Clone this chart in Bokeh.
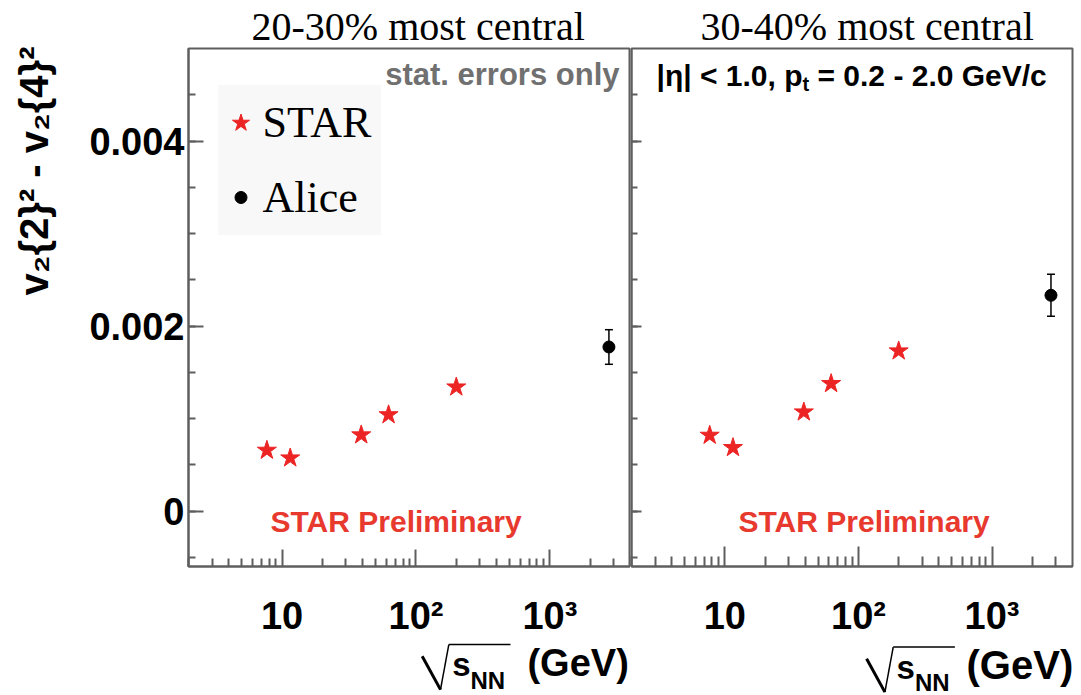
from bokeh.plotting import figure
from bokeh.models import (Range1d, FixedTicker, Label, Legend, LegendItem, Whisker,
                          TeeHead, ColumnDataSource, Arrow)
from bokeh.layouts import row, column
from bokeh.embed import file_html
from bokeh.resources import INLINE

# ---------------- data ----------------
star_energy = [7.7, 11.5, 39, 62.4, 200]
star_2030 = [0.000656, 0.000573, 0.000822, 0.00104, 0.00134]
star_3040 = [0.000818, 0.000685, 0.00107, 0.001377, 0.00173]
alice_energy = [2760]
alice_2030 = [0.001773]
alice_2030_err = [0.000187]
alice_3040 = [0.002332]
alice_3040_err = [0.000227]

panel_titles = ["20-30% most central", "30-40% most central"]
legend_labels = ["STAR", "Alice"]
y_title = "v\u2082{2}\u00b2 - v\u2082{4}\u00b2"
x_major_ticks = [10, 100, 1000]
x_minor_ticks = [2, 3, 4, 5, 6, 7, 8, 9, 20, 30, 40, 50, 60, 70, 80, 90,
                 200, 300, 400, 500, 600, 700, 800, 900, 2000, 3000]
x_tick_labels = {10: "10", 100: "10\u00b2", 1000: "10\u00b3"}
y_major_ticks = [0, 0.002, 0.004]
y_minor_ticks = [-0.0005, 0, 0.0005, 0.001, 0.0015, 0.002, 0.0025, 0.003,
                 0.0035, 0.004, 0.0045]
y_tick_labels = {0: "0", 0.002: "0.002", 0.004: "0.004"}

FRAME = "#5e5e5e"
RED = "#ec2424"
RED_TXT = "#e8392f"
SANS = "Liberation Sans"
SERIF = "Liberation Serif"

FRAME_H = 518
BOTTOM_STRIP = 54
P_TOP = 48
P_BOTTOM = 75
YLAB_W = 80
SHIFT = 0.4   # empirical baseline correction (fraction of font size)


def blank(w, h):
    p = figure(width=w, height=h, x_range=Range1d(0, 1), y_range=Range1d(0, 1),
               min_border=0, x_axis_location=None, y_axis_location=None,
               output_backend="svg", toolbar_location=None)
    p.outline_line_color = None
    p.grid.visible = False
    p.background_fill_color = "white"
    p.border_fill_color = "white"
    return p


def make_panel(fw, ml, mr, maj_x, min_x, maj_y, min_y, show_ylabels, title, offset):
    p = figure(x_axis_type="log", x_range=Range1d(2, 4000),
               y_range=Range1d(-0.0006, 0.005),
               frame_width=fw, frame_height=FRAME_H,
               min_border_left=ml, min_border_right=mr,
               min_border_top=P_TOP, min_border_bottom=P_BOTTOM,
               output_backend="svg", toolbar_location=None)
    p.title.text = title
    p.title.align = "left"
    p.title.offset = offset
    p.title.standoff = 0
    p.title.text_font = SERIF
    p.title.text_font_size = "40px"
    p.title.text_font_style = "normal"
    p.title.text_color = "black"
    p.title.text_line_height = 1.0

    p.grid.visible = False
    p.outline_line_color = FRAME
    p.outline_line_width = 2
    p.background_fill_color = "white"
    p.border_fill_color = "white"

    xa = p.xaxis[0]
    xa.ticker = FixedTicker(ticks=x_major_ticks, minor_ticks=x_minor_ticks)
    xa.major_label_overrides = x_tick_labels
    xa.major_tick_in = maj_x
    xa.major_tick_out = 0
    xa.minor_tick_in = min_x
    xa.minor_tick_out = 0
    xa.axis_line_color = FRAME
    xa.axis_line_width = 2
    xa.major_tick_line_color = FRAME
    xa.minor_tick_line_color = FRAME
    xa.major_tick_line_width = 2
    xa.minor_tick_line_width = 2
    xa.major_label_text_font = SANS
    xa.major_label_text_font_style = "bold"
    xa.major_label_text_font_size = "38px"
    xa.major_label_text_color = "black"
    xa.major_label_standoff = 28

    ya = p.yaxis[0]
    ya.ticker = FixedTicker(ticks=y_major_ticks, minor_ticks=y_minor_ticks)
    if show_ylabels:
        ya.major_label_overrides = y_tick_labels
    else:
        ya.major_label_overrides = {k: "" for k in y_tick_labels}
    ya.major_tick_in = maj_y
    ya.major_tick_out = 0
    ya.minor_tick_in = min_y
    ya.minor_tick_out = 0
    ya.axis_line_color = FRAME
    ya.axis_line_width = 2
    ya.major_tick_line_color = FRAME
    ya.minor_tick_line_color = FRAME
    ya.major_tick_line_width = 2
    ya.minor_tick_line_width = 2
    ya.major_label_text_font = SANS
    ya.major_label_text_font_style = "bold"
    ya.major_label_text_font_size = "38px"
    ya.major_label_text_color = "black"
    ya.major_label_standoff = 4 if show_ylabels else 0
    return p


def add_points(p, star_vals, alice_vals, alice_err):
    sr = p.scatter(star_energy, star_vals, marker="star", size=20,
                   fill_color=RED, line_color=RED)
    src = ColumnDataSource(dict(
        x=alice_energy,
        upper=[v + e for v, e in zip(alice_vals, alice_err)],
        lower=[v - e for v, e in zip(alice_vals, alice_err)]))
    p.add_layout(Whisker(source=src, base="x", upper="upper", lower="lower",
                         dimension="height", line_color="black", line_width=1.5,
                         upper_head=TeeHead(size=8, line_color="black", line_width=1.5),
                         lower_head=TeeHead(size=8, line_color="black", line_width=1.5)))
    ar = p.scatter(alice_energy, alice_vals, marker="circle", size=12,
                   fill_color="black", line_color="black")
    return sr, ar


def lab(p, x, y, text, size, font=SANS, style="bold", color="black", align="left"):
    # y is the wanted baseline (frame-relative, upward)
    p.add_layout(Label(x=x, y=y + SHIFT * size, x_units="screen", y_units="screen",
                       text=text, text_font=font, text_font_size=f"{size}px",
                       text_font_style=style, text_color=color, text_align=align,
                       text_baseline="alphabetic"))


def seg(p, x0, y0, x1, y1, w):
    p.add_layout(Arrow(x_start=x0, y_start=y0, x_end=x1, y_end=y1,
                       start_units="screen", end_units="screen",
                       start=None, end=None, line_color="black", line_width=w))


def energy_label(p, R, B, gev_size):
    # R: right edge, B: baseline (frame-relative screen px, y upward)
    seg(p, R - 206.6, B + 21.7, R - 188.3, B - 11.6, 3)
    seg(p, R - 188.3, B - 11.6, R - 180.0, B + 33.4, 1.5)
    seg(p, R - 180.0, B + 33.4, R - 118.3, B + 33.4, 1.5)
    lab(p, R - 176.6, B, "s", 33)
    lab(p, R - 158.3, B - 11.6, "NN", 24)
    lab(p, R, B, "(GeV)", gev_size, align="right")


# ---------------- y label strip (axis label of a slim figure) ----------------
mid_h = P_TOP + FRAME_H + P_BOTTOM
yl = figure(width=YLAB_W, height=mid_h, x_range=Range1d(0, 1), y_range=Range1d(0, 1),
            min_border_left=70, min_border_right=0, min_border_top=44,
            min_border_bottom=mid_h - 293,
            x_axis_location=None, y_axis_location="left",
            output_backend="svg", toolbar_location=None)
yl.outline_line_color = None
yl.grid.visible = False
yl.background_fill_color = "white"
yl.border_fill_color = "white"
ya = yl.yaxis[0]
ya.ticker = FixedTicker(ticks=[0.5])
ya.major_label_overrides = {0.5: ""}
ya.major_tick_in = 0
ya.major_tick_out = 0
ya.minor_tick_in = 0
ya.minor_tick_out = 0
ya.major_label_standoff = 0
ya.axis_line_color = None
ya.axis_label = y_title
ya.axis_label_text_font = SANS
ya.axis_label_text_font_style = "bold"
ya.axis_label_text_font_size = "40px"
ya.axis_label_text_color = "black"
ya.axis_label_standoff = 15

# ---------------- left panel ----------------
p1 = make_panel(442, 188 - YLAB_W, 0, 17, 8, 15, 7, True, panel_titles[0], 63)
s1, a1 = add_points(p1, star_2030, alice_2030, alice_2030_err)
lab(p1, 431, 566 - 86.7, "stat. errors only", 31, color="#707070", align="right")
lab(p1, 82, 566 - 533, "STAR Preliminary", 30, color=RED_TXT)

leg_common = dict(glyph_width=45, label_height=75, label_standoff=0, label_width=118,
                  padding=0, margin=0, spacing=0,
                  label_text_font=SERIF, label_text_font_size="44px",
                  label_text_color="black",
                  background_fill_color="#f8f8f8", background_fill_alpha=1,
                  border_line_alpha=0)
leg1 = Legend(items=[LegendItem(label=legend_labels[0], renderers=[s1])],
              location=(29.5, 406.5), glyph_height=45, **leg_common)
leg2 = Legend(items=[LegendItem(label=legend_labels[1], renderers=[a1])],
              location=(29.5, 331.5), glyph_height=30, **leg_common)
p1.add_layout(leg1, "center")
p1.add_layout(leg2, "center")

# ---------------- right panel ----------------
p2 = make_panel(441, 1, 9, 20, 10, 10, 6, False, panel_titles[1], 69)
s2, a2 = add_points(p2, star_3040, alice_3040, alice_3040_err)
lab(p2, 25, 566 - 87.3, "|\u03b7| < 1.0, p", 30)
lab(p2, 171, 566 - 91.7, "t", 20)
lab(p2, 186, 566 - 87.3, "= 0.2 - 2.0 GeV/c", 30)
lab(p2, 107, 566 - 533, "STAR Preliminary", 30, color=RED_TXT)

# ---------------- x label strip ----------------
x1 = blank(630, BOTTOM_STRIP)
energy_label(x1, 628.3, 695 - 677.5, 38)
x2 = blank(451, BOTTOM_STRIP)
energy_label(x2, 1072.7 - 630, 695 - 680.0, 40)

layout = column(row(yl, p1, p2, spacing=0),
                row(x1, x2, spacing=0), spacing=0)
open("out.html", "w").write(file_html(layout, INLINE))
